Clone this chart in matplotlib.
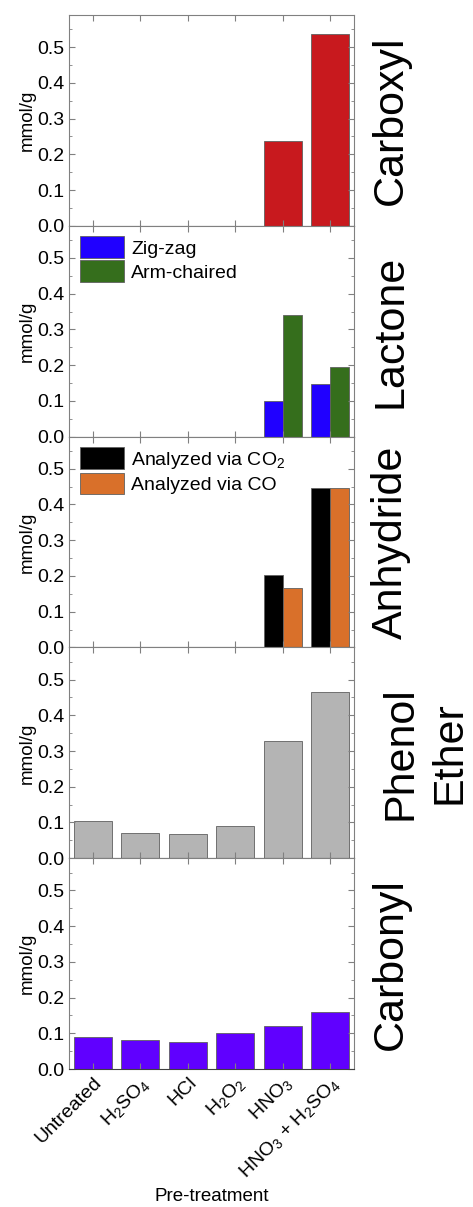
import matplotlib.pyplot as plt
from matplotlib.ticker import MultipleLocator
import numpy as np

plt.rcParams['font.family'] = ['Liberation Sans', 'DejaVu Sans']
plt.rcParams['mathtext.fontset'] = 'custom'
plt.rcParams['mathtext.rm'] = 'Liberation Sans'

treatments = ['Untreated', 'H$_2$SO$_4$', 'HCl', 'H$_2$O$_2$', 'HNO$_3$', 'HNO$_3$ + H$_2$SO$_4$']
carboxyl = [0, 0, 0, 0, 0.237, 0.538]
lactone_zigzag = [0, 0, 0, 0, 0.100, 0.148]
lactone_arm = [0, 0, 0, 0, 0.341, 0.196]
anhydride_co2 = [0, 0, 0, 0, 0.204, 0.447]
anhydride_co = [0, 0, 0, 0, 0.167, 0.445]
phenol_ether = [0.104, 0.071, 0.069, 0.089, 0.327, 0.466]
carbonyl = [0.090, 0.080, 0.076, 0.100, 0.120, 0.161]

x = np.arange(len(treatments))

fig, axes = plt.subplots(5, 1, figsize=(4.73, 12.07), dpi=100, sharex=True)
fig.subplots_adjust(left=0.146, right=0.748, top=0.9876, bottom=0.1143, hspace=0)

edge = '#606060'
ax = axes[0]
ax.bar(x, carboxyl, 0.8, color='#C8191E', edgecolor=edge, lw=0.6)

ax = axes[1]
ax.bar(x - 0.2, lactone_zigzag, 0.4, color='#2000FF', edgecolor=edge, lw=0.6, label='Zig-zag')
ax.bar(x + 0.2, lactone_arm, 0.4, color='#356E1C', edgecolor=edge, lw=0.6, label='Arm-chaired')

ax = axes[2]
ax.bar(x - 0.2, anhydride_co2, 0.4, color='black', edgecolor=edge, lw=0.6, label='Analyzed via CO$_2$')
ax.bar(x + 0.2, anhydride_co, 0.4, color='#D9702A', edgecolor=edge, lw=0.6, label='Analyzed via CO')

axes[3].bar(x, phenol_ether, 0.8, color='#B4B4B4', edgecolor=edge, lw=0.6)
axes[4].bar(x, carbonyl, 0.8, color='#6000FF', edgecolor=edge, lw=0.6)

names = ['Carboxyl', 'Lactone', 'Anhydride', 'Phenol\nEther', 'Carbonyl']
for ax, name in zip(axes, names):
    ax.set_xlim(-0.5, 5.5)
    ax.set_ylim(0, 0.59)
    ax.yaxis.set_major_locator(MultipleLocator(0.1))
    ax.yaxis.set_minor_locator(MultipleLocator(0.05))
    ax.tick_params(direction='in', top=True, right=True, labelsize=14, length=4, color='#808080')
    ax.tick_params(which='minor', direction='in', right=True, length=2, color='#808080')
    ax.set_xticks(x)
    for s in ax.spines.values():
        s.set_color('#808080')
        s.set_linewidth(0.8)
    ax.spines['bottom'].set_color('#404040')
    ax.set_ylabel('mmol/g', fontsize=13.5, labelpad=1)
    xpos = 1.25 if '\n' in name else 1.13
    ax.text(xpos, 0.5, name, transform=ax.transAxes, rotation=90, ha='center', va='center',
            fontsize=31, linespacing=1.3)

for ax in axes[1:3]:
    ax.legend(loc='upper left', fontsize=14, frameon=False, handlelength=2.3, handleheight=1.35,
              borderaxespad=0.25, borderpad=0.3, labelspacing=0.1, handletextpad=0.35)

axes[4].set_xticklabels(treatments, rotation=45, ha='right', rotation_mode='anchor', fontsize=14)
axes[4].set_xlabel('Pre-treatment', fontsize=13.5)

fig.savefig('out.png', dpi=100)
